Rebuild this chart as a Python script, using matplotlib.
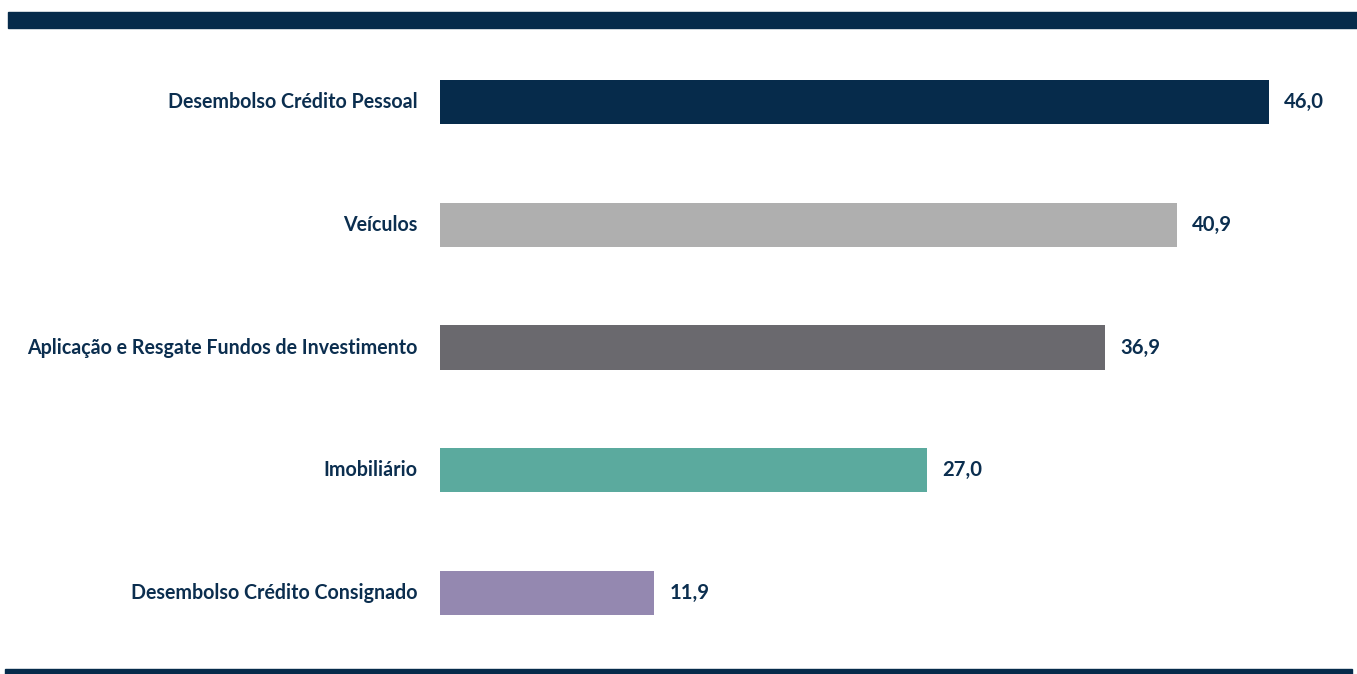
import matplotlib
matplotlib.use('Agg')
import matplotlib.pyplot as plt
from matplotlib.patches import Rectangle

categorias = ['Desembolso Crédito Pessoal', 'Veículos',
              'Aplicação e Resgate Fundos de Investimento', 'Imobiliário',
              'Desembolso Crédito Consignado']
valores = [46.0, 40.9, 36.9, 27.0, 11.9]
cores = ['#062B4B', '#AFAFAF', '#6A696E', '#5BAA9E', '#9488B0']
rotulos = ['46,0', '40,9', '36,9', '27,0', '11,9']

navy = '#0B2E4F'
plt.rcParams['font.family'] = ['Lato', 'DejaVu Sans']

W, H = 1357, 674
fig = plt.figure(figsize=(W / 100, H / 100), dpi=100)
ax = fig.add_axes([440 / W, 1 - 655 / H, 1 - 440 / W, 615 / H])

pos = list(range(len(categorias)))
ax.barh(pos, valores, height=0.36, color=cores)
ax.set_xlim(0, (W - 440) / 18.02)
ax.set_ylim(4.505, -0.505)

for p, v, r in zip(pos, valores, rotulos):
    ax.annotate(r, (v, p), xytext=(11, 0), textcoords='offset points',
                ha='left', va='center', fontsize=14.6, fontweight='bold', color=navy)
    ax.annotate(categorias[p], (0, p), xytext=(-16, 0), textcoords='offset points',
                ha='right', va='center', fontsize=14.1, fontweight='bold', color=navy)

ax.set_xticks([])
ax.set_yticks([])
for s in ax.spines.values():
    s.set_visible(False)

# faixas decorativas topo/rodapé
fig.patches.append(Rectangle((8 / W, 1 - 27.5 / H), 1 - 8 / W, 15.5 / H,
                             transform=fig.transFigure, color='#062B4B', zorder=0))
fig.patches.append(Rectangle((5 / W, 0), 1347 / W, 5.5 / H,
                             transform=fig.transFigure, color='#062B4B', zorder=0))

fig.savefig('out.png', dpi=100)
